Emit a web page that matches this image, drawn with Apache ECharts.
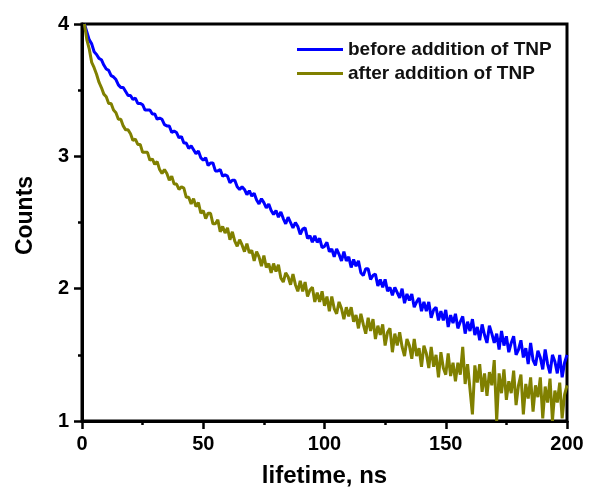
<!DOCTYPE html>
<html>
<head>
<meta charset="utf-8">
<script src="https://cdn.jsdelivr.net/npm/echarts@6/dist/echarts.min.js"></script>
<style>
html,body{margin:0;padding:0;background:#fff;}
#chart{width:592px;height:493px;}
</style>
</head>
<body>
<div id="chart"></div>
<script>
//时间轴: 从1ns开始, 每1ns一个点
var timeStart = 1;
var timeStep = 1;

var seriesNames = ["before addition of TNP", "after addition of TNP"];

//before addition of TNP
var beforeCounts = [
	4.00,3.94,3.88,3.85,3.79,3.77,3.74,3.73,3.69,3.66,
	3.65,3.61,3.60,3.58,3.54,3.52,3.52,3.49,3.46,3.46,
	3.43,3.44,3.40,3.40,3.39,3.35,3.35,3.35,3.32,3.32,
	3.28,3.29,3.28,3.24,3.23,3.23,3.18,3.19,3.18,3.14,
	3.15,3.10,3.10,3.06,3.08,3.05,3.02,3.04,2.99,2.97,
	2.99,2.93,2.95,2.95,2.89,2.89,2.90,2.85,2.86,2.85,
	2.80,2.82,2.82,2.77,2.75,2.77,2.75,2.71,2.74,2.70,
	2.72,2.67,2.64,2.68,2.65,2.61,2.64,2.59,2.56,2.59,
	2.54,2.58,2.53,2.49,2.54,2.50,2.46,2.50,2.47,2.41,
	2.45,2.46,2.38,2.40,2.35,2.40,2.35,2.38,2.31,2.32,
	2.35,2.28,2.30,2.24,2.30,2.26,2.21,2.28,2.21,2.24,
	2.16,2.22,2.17,2.21,2.12,2.10,2.15,2.15,2.07,2.10,
	2.11,2.02,2.07,2.01,2.07,1.98,2.01,1.95,2.01,1.97,
	1.93,2.00,1.89,1.96,1.91,1.96,1.86,1.90,1.93,1.83,
	1.90,1.83,1.90,1.78,1.84,1.86,1.76,1.83,1.76,1.84,
	1.71,1.80,1.74,1.81,1.70,1.75,1.79,1.66,1.75,1.68,
	1.77,1.65,1.71,1.61,1.73,1.65,1.59,1.72,1.66,1.59,
	1.66,1.54,1.68,1.57,1.64,1.52,1.59,1.64,1.50,1.54,
	1.61,1.48,1.55,1.43,1.59,1.46,1.42,1.53,1.48,1.39,
	1.54,1.43,1.36,1.50,1.45,1.36,1.50,1.33,1.44,1.50
];

//after addition of TNP
var afterCounts = [
	4.00,3.88,3.81,3.71,3.67,3.62,3.56,3.52,3.47,3.45,
	3.40,3.40,3.35,3.33,3.28,3.28,3.23,3.20,3.20,3.17,
	3.12,3.13,3.09,3.09,3.03,3.03,3.03,2.97,2.98,2.94,
	2.96,2.90,2.87,2.90,2.87,2.82,2.85,2.79,2.79,2.75,
	2.77,2.76,2.69,2.69,2.64,2.68,2.62,2.65,2.57,2.59,
	2.53,2.57,2.57,2.49,2.49,2.52,2.43,2.47,2.42,2.46,
	2.37,2.43,2.36,2.32,2.37,2.33,2.28,2.34,2.27,2.29,
	2.21,2.28,2.24,2.17,2.25,2.16,2.19,2.12,2.19,2.13,
	2.18,2.08,2.05,2.12,2.09,2.03,2.11,2.03,1.98,2.06,
	1.98,2.05,1.94,1.99,2.01,1.90,1.97,1.90,1.98,1.87,
	1.94,1.83,1.94,1.85,1.81,1.90,1.85,1.77,1.86,1.79,
	1.86,1.75,1.80,1.70,1.81,1.73,1.66,1.78,1.68,1.77,
	1.62,1.72,1.65,1.73,1.57,1.67,1.70,1.52,1.66,1.57,
	1.67,1.56,1.49,1.62,1.57,1.47,1.62,1.49,1.55,1.41,
	1.57,1.51,1.40,1.56,1.41,1.50,1.33,1.52,1.40,1.35,
	1.51,1.34,1.44,1.30,1.44,1.35,1.56,1.28,1.43,1.24,
	1.05,1.42,1.29,1.43,1.22,1.36,1.19,1.37,1.27,1.46,
	1.00,1.36,1.21,1.39,1.16,1.30,1.21,1.38,1.12,1.27,
	1.35,1.05,1.28,1.17,1.33,1.07,1.27,1.18,1.33,1.02,
	1.26,1.14,1.32,1.00,1.23,1.14,1.29,1.02,1.20,1.27
];

var xTicks = [0, 50, 100, 150, 200];
var yTicks = [1, 2, 3, 4];

var lineColors = ["#0000ff", "#808000"];

function toPairs(values){
	var pairs = [];
	for(var i=0;i<values.length;i++){
		pairs.push([timeStart + i*timeStep, values[i]]);
	}
	return pairs;
}

var font = "'Liberation Sans', Arial, sans-serif";

function axisStyle(){
	return {
		axisLine: { show: true, lineStyle: { color: "#000", width: 3 } },
		axisTick: { show: true, inside: false, length: 8, lineStyle: { color: "#000", width: 2.5 } },
		minorTick: { show: true, splitNumber: 2, length: 4, lineStyle: { color: "#000", width: 2.5 } },
		splitLine: { show: false }
	};
}

var xAxis = axisStyle();
xAxis.type = "value";
xAxis.min = xTicks[0];
xAxis.max = xTicks[xTicks.length-1];
xAxis.interval = 50;
xAxis.name = "lifetime, ns";
xAxis.nameLocation = "middle";
xAxis.nameGap = 43;
xAxis.nameTextStyle = { fontFamily: font, fontWeight: "bold", fontSize: 24, color: "#000" };
xAxis.axisLabel = { fontFamily: font, fontWeight: "bold", fontSize: 20, color: "#000", margin: 13 };

var yAxis = axisStyle();
yAxis.type = "value";
yAxis.min = yTicks[0];
yAxis.max = yTicks[yTicks.length-1];
yAxis.interval = 1;
yAxis.name = "Counts";
yAxis.nameLocation = "middle";
yAxis.nameGap = 45;
yAxis.nameTextStyle = { fontFamily: font, fontWeight: "bold", fontSize: 23, color: "#000", padding: [0,0,0,14] };
yAxis.axisLabel = { fontFamily: font, fontWeight: "bold", fontSize: 20, color: "#000", margin: 13 };

var option = {
	animation: false,
	backgroundColor: "#fff",
	grid: {
		left: 82, top: 24, right: 25, bottom: 72,
		show: true, borderColor: "#000", borderWidth: 3
	},
	legend: {
		orient: "vertical",
		left: 297, top: 40, padding: 0,
		icon: "rect",
		itemWidth: 46, itemHeight: 3, itemGap: 5,
		data: seriesNames,
		textStyle: { fontFamily: font, fontWeight: "bold", fontSize: 19, lineHeight: 19, color: "#111" }
	},
	xAxis: xAxis,
	yAxis: yAxis,
	series: [
		{
			name: seriesNames[0], type: "line", symbol: "none",
			data: toPairs(beforeCounts),
			lineStyle: { color: lineColors[0], width: 3 },
			itemStyle: { color: lineColors[0] }
		},
		{
			name: seriesNames[1], type: "line", symbol: "none",
			data: toPairs(afterCounts),
			lineStyle: { color: lineColors[1], width: 3 },
			itemStyle: { color: lineColors[1] }
		}
	]
};

var myChart = echarts.init(document.getElementById("chart"));
myChart.setOption(option);
</script>
</body>
</html>
